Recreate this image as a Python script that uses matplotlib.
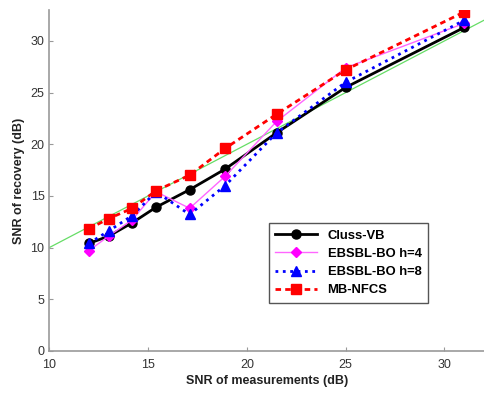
import matplotlib
matplotlib.use('Agg')
import matplotlib.pyplot as plt

snr_meas = [12, 13, 14.2, 15.4, 17.1, 18.9, 21.5, 25, 31]
cluss_vb = [10.4, 11.1, 12.4, 13.9, 15.6, 17.6, 21.1, 25.5, 31.3]
ebsbl_h4 = [9.7, 11.1, 12.7, 15.4, 13.8, 16.9, 22.2, 27.4, 31.7]
ebsbl_h8 = [10.4, 11.6, 13.1, 15.4, 13.2, 16.0, 21.1, 26.0, 32.0]
mb_nfcs = [11.8, 12.8, 13.8, 15.5, 17.0, 19.6, 22.9, 27.2, 32.8]
ref_line = [10, 33]

plt.rcParams['font.family'] = ['Liberation Sans', 'DejaVu Sans']

fig = plt.figure(figsize=(4.84, 3.96), dpi=100)
ax = fig.add_axes([0.102, 0.114, 0.898, 0.861])

ax.plot(ref_line, ref_line, color='#66dd66', lw=0.9, zorder=1)
ax.plot(snr_meas, cluss_vb, color='black', lw=2, marker='o', ms=6.5, label='Cluss-VB', zorder=3)
ax.plot(snr_meas, ebsbl_h4, color='#ff66ff', lw=1, marker='D', ms=5.5, mfc='#ff00ff', mec='#ff00ff', label='EBSBL-BO h=4', zorder=4)
ax.plot(snr_meas, ebsbl_h8, color='#0000ff', lw=2, ls=':', marker='^', ms=6.5, label='EBSBL-BO h=8', zorder=5)
ax.plot(snr_meas, mb_nfcs, color='#ff0000', lw=2, ls='--', dashes=(2, 1.5), marker='s', ms=6.5, label='MB-NFCS', zorder=6)

ax.set_xlim(10, 32)
ax.set_ylim(0, 33)
ax.set_xticks([10, 15, 20, 25, 30])
ax.set_yticks([0, 5, 10, 15, 20, 25, 30])
for s in ['top', 'right']:
    ax.spines[s].set_visible(False)
for s in ['left', 'bottom']:
    ax.spines[s].set_color('#999999')
    ax.spines[s].set_linewidth(1.2)
ax.tick_params(direction='in', length=3, colors='#999999', labelcolor='#333333', labelsize=9)
ax.tick_params(axis='x', pad=6)

ax.set_xlabel('SNR of measurements (dB)', fontweight='bold', fontsize=9, color='#222222', labelpad=3)
ax.set_ylabel('SNR of recovery (dB)', fontweight='bold', fontsize=9, color='#222222', labelpad=4)

leg = ax.legend(loc='upper left', bbox_to_anchor=(0.49, 0.393), prop={'weight': 'bold', 'size': 9.4},
                fancybox=False, framealpha=1, edgecolor='#555555', handlelength=3.2, borderpad=0.5, labelspacing=0.45)
leg.get_frame().set_linewidth(1)

plt.savefig('out.png', dpi=100)
